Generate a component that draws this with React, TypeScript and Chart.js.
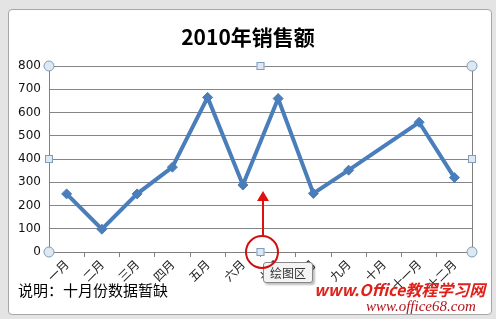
import React, { useEffect, useRef } from "react";
import { Chart, registerables } from "chart.js";

Chart.register(...registerables);

const categories = ["一月", "二月", "三月", "四月", "五月", "六月", "七月", "八月", "九月", "十月", "十一月", "十二月"];
const sales: (number | null)[] = [250, 98, 250, 365, 665, 288, 660, 252, 352, null, 558, 320];
const yTicks = [0, 100, 200, 300, 400, 500, 600, 700, 800];
const titleText = "2010年销售额";
const noteText = "说明：十月份数据暂缺";

const handlesPlugin = {
  id: "handles",
  afterDraw(chart: any) {
    const { ctx, chartArea: a } = chart;
    ctx.save();
    ctx.strokeStyle = "#808080";
    ctx.lineWidth = 1;
    ctx.beginPath();
    ctx.moveTo(Math.round(a.right) + 0.5, a.top);
    ctx.lineTo(Math.round(a.right) + 0.5, a.bottom);
    ctx.stroke();
    const cx = (a.left + a.right) / 2;
    const cy = (a.top + a.bottom) / 2;
    const circles = [[a.left, a.top], [a.right, a.top], [a.left, a.bottom], [a.right, a.bottom]];
    const squares = [[cx, a.top], [a.left, cy], [a.right, cy], [cx, a.bottom]];
    ctx.fillStyle = "#dde8f3";
    ctx.strokeStyle = "#7f9db9";
    circles.forEach(([x, y]) => {
      ctx.beginPath();
      ctx.arc(x, y, 5, 0, Math.PI * 2);
      ctx.fill();
      ctx.stroke();
    });
    squares.forEach(([x, y]) => {
      ctx.fillRect(x - 4, y - 4, 8, 8);
      ctx.strokeRect(x - 3.5, y - 3.5, 7, 7);
    });
    ctx.restore();
  },
};

export default function App() {
  const ref = useRef<HTMLCanvasElement>(null);
  useEffect(() => {
    document.body.style.margin = "0";
    const chart = new Chart(ref.current!, {
      type: "line",
      data: {
        labels: categories,
        datasets: [
          {
            data: sales,
            borderColor: "#4a7ebb",
            backgroundColor: "#4a7ebb",
            borderWidth: 4,
            pointStyle: "rectRot",
            pointRadius: 5,
            pointBorderWidth: 1,
            spanGaps: true,
            tension: 0,
          },
        ],
      },
      options: {
        responsive: false,
        animation: false,
        layout: { padding: { left: 6, right: 24, top: 66, bottom: 27 } },
        plugins: { legend: { display: false }, tooltip: { enabled: false }, title: { display: false } },
        scales: {
          x: {
            type: "category",
            offset: true,
            grid: { display: true, drawOnChartArea: false, drawTicks: true, tickLength: 5, offset: true, color: "#808080" },
            border: { color: "#808080" },
            ticks: {
              minRotation: 45,
              maxRotation: 45,
              autoSkip: false,
              color: "#222",
              padding: 0,
              font: { family: "'Noto Sans CJK SC'", size: 12 },
            },
            afterFit: (s: any) => { s.height = 40; },
          },
          y: {
            min: 0,
            max: 800,
            afterBuildTicks: (s: any) => { s.ticks = yTicks.map((v) => ({ value: v })); },
            grid: { color: "#868686", drawTicks: false },
            border: { color: "#808080" },
            ticks: { color: "#111", padding: 8, font: { family: "'DejaVu Sans'", size: 12 } },
            afterFit: (s: any) => { s.width = 43; },
          },
        },
      },
      plugins: [handlesPlugin],
    });
    return () => chart.destroy();
  }, []);

  return (
    <div style={{ position: "fixed", left: 0, top: 0, width: 496, height: 319, background: "#e4e4e4", overflow: "hidden" }}>
      <div style={{ position: "absolute", left: 8, top: 9, width: 482, height: 304, background: "#fff", border: "1px solid #a6a6a6", borderRadius: 4 }} />
      <canvas ref={ref} width={496} height={319} style={{ position: "absolute", left: 0, top: 0 }} />
      <div style={{ position: "absolute", left: 0, top: 21, width: 496, textAlign: "center", fontFamily: "'Noto Sans CJK SC'", fontWeight: "bold", fontSize: 21, lineHeight: "30px", color: "#000" }}>
        {titleText}
      </div>
      <div style={{ position: "absolute", left: 18, top: 280, fontFamily: "'Noto Sans CJK SC'", fontSize: 15, lineHeight: "20px", color: "#000" }}>
        {noteText}
      </div>
      <div style={{ position: "absolute", left: 314, top: 279, fontFamily: "'Noto Sans CJK SC'", fontWeight: "bold", fontSize: 16, lineHeight: "20px", color: "#e0201a", fontStyle: "italic" }}>
        www.Office教程学习网
      </div>
      <div style={{ position: "absolute", left: 366, top: 297, fontFamily: "'Liberation Serif'", fontStyle: "italic", fontSize: 15, lineHeight: "18px", color: "#b0141a" }}>
        www.office68.com
      </div>
      <div style={{ position: "absolute", left: 263, top: 262, width: 48, height: 19, background: "#f4f4f4", border: "1px solid #888", borderRadius: 3, boxShadow: "2px 2px 2px rgba(0,0,0,0.25)", fontFamily: "'Noto Sans CJK SC'", fontSize: 12, lineHeight: "19px", textAlign: "center", color: "#333" }}>
        绘图区
      </div>
      <svg width={496} height={319} style={{ position: "absolute", left: 0, top: 0, pointerEvents: "none" }}>
        <circle cx={262} cy={252} r={16} fill="none" stroke="#d01010" strokeWidth={2} />
        <line x1={263} y1={236} x2={263} y2={200} stroke="#e01010" strokeWidth={2} />
        <polygon points="257,201 269,201 263,191" fill="#e01010" />
      </svg>
    </div>
  );
}
